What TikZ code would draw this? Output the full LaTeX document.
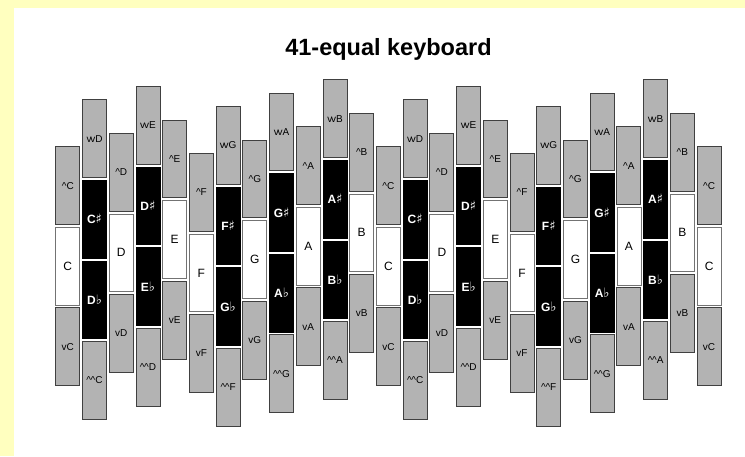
\documentclass[tikz,border=0pt]{standalone}
\usepackage{fontspec}
\setmainfont{Liberation Sans}
\newfontfamily\symf{DejaVu Sans}
\definecolor{bgyellow}{RGB}{255,255,191}
\definecolor{keygray}{RGB}{179,179,179}
\newcommand\shp{{\symf\fontsize{13}{14}\selectfont\char"266F}}
\newcommand\flt{{\symf\fontsize{13}{14}\selectfont\char"266D}}
\newcommand\up{\textasciicircum}
\newcommand\dn{v}
\newcommand\ddn{v\kern-0.12em v}
\newcommand\uup{\textasciicircum\kern-0.04em\textasciicircum}
\tikzset{
  keybase/.style={rectangle, inner sep=0pt, minimum width=24pt, minimum height=77.8pt},
  graykey/.style={keybase, fill=keygray, draw=black!75, line width=0.9pt, font=\fontsize{10}{12}\selectfont},
  whitekey/.style={keybase, fill=white, draw=black!55, line width=0.8pt, font=\fontsize{12}{14}\selectfont},
  blackkey/.style={keybase, fill=black, draw=black, line width=0.8pt, text=white, font=\fontsize{12}{14}\selectfont\bfseries},
  titlestyle/.style={font=\fontsize{23.5}{28}\selectfont\bfseries, inner sep=0pt}
}
% white column: col, p, letter
\newcommand\wcol[3]{%
  \node[graykey]  (k#1t) at ({67.8+26.72*#1},{266.2-6.67*(#2)-80.6}) {\up#3};
  \node[whitekey] (k#1m) at ({67.8+26.72*#1},{266.2-6.67*(#2)}) {#3};
  \node[graykey]  (k#1b) at ({67.8+26.72*#1},{266.2-6.67*(#2)+80.6}) {\dn#3};
}
% black column: col, p, lower natural, upper natural
\newcommand\bcol[4]{%
  \node[graykey]  (k#1t) at ({67.8+26.72*#1},{266.2-6.67*(#2)-120.9}) {\ddn#4};
  \node[blackkey] (k#1s) at ({67.8+26.72*#1},{266.2-6.67*(#2)-40.3}) {#3\shp};
  \node[blackkey] (k#1f) at ({67.8+26.72*#1},{266.2-6.67*(#2)+40.3}) {#4\flt};
  \node[graykey]  (k#1b) at ({67.8+26.72*#1},{266.2-6.67*(#2)+120.9}) {\uup#3};
}
\begin{document}
\begin{tikzpicture}[x=1pt,y=-1pt]
\useasboundingbox (0,0) rectangle (745,456);
\fill[bgyellow] (0,0) rectangle (745,456);
\fill[white] (13.5,7.5) rectangle (745,456);
\node[titlestyle, anchor=base] (title) at (388.5,55) {41-equal keyboard};
\wcol{0}{0}{C}
\bcol{1}{1}{C}{D}
\wcol{2}{2}{D}
\bcol{3}{3}{D}{E}
\wcol{4}{4}{E}
\wcol{5}{-1}{F}
\bcol{6}{0}{F}{G}
\wcol{7}{1}{G}
\bcol{8}{2}{G}{A}
\wcol{9}{3}{A}
\bcol{10}{4}{A}{B}
\wcol{11}{5}{B}
\wcol{12}{0}{C}
\bcol{13}{1}{C}{D}
\wcol{14}{2}{D}
\bcol{15}{3}{D}{E}
\wcol{16}{4}{E}
\wcol{17}{-1}{F}
\bcol{18}{0}{F}{G}
\wcol{19}{1}{G}
\bcol{20}{2}{G}{A}
\wcol{21}{3}{A}
\bcol{22}{4}{A}{B}
\wcol{23}{5}{B}
\wcol{24}{0}{C}
\end{tikzpicture}
\end{document}
